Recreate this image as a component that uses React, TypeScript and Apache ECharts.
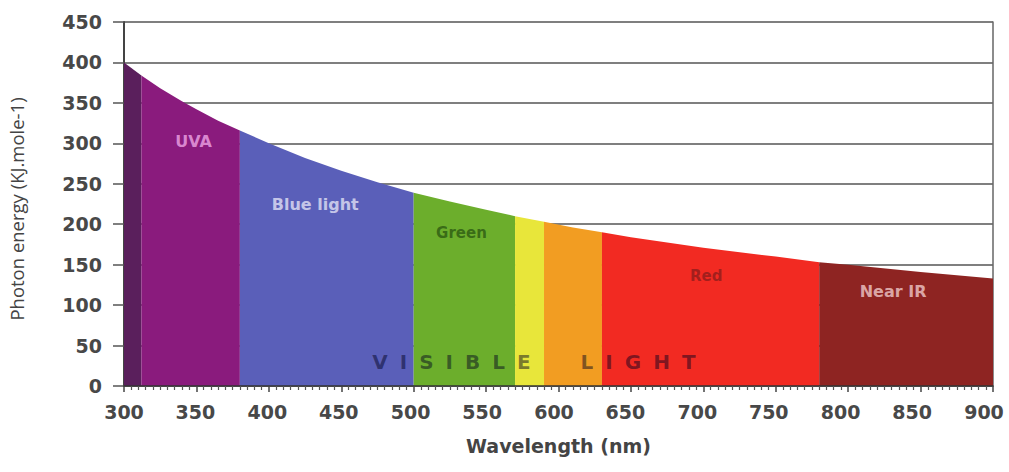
import React, { useEffect, useRef } from "react";
import * as echarts from "echarts";

// Curve: wavelength (nm) -> photon energy (kJ/mol)
const wavelengths = [300, 312, 325, 340, 350, 365, 380, 400, 425, 450, 475, 500, 525, 550, 570, 590, 610, 630, 650, 700, 750, 780, 800, 850, 900];
const energies = [400, 384, 368, 352, 342, 328, 316, 300, 282, 266, 252, 239, 228, 218, 210, 203, 196, 190, 184, 171, 160, 153, 150, 141, 133];

// Colored bands
const bandStarts = [300, 312, 380, 500, 570, 590, 630, 780];
const bandEnds = [312, 380, 500, 570, 590, 630, 780, 900];
const bandColors = ["#5a1f5c", "#8a1b7d", "#5a5fb9", "#6cae2c", "#e8e63a", "#f29d22", "#f22a22", "#8e2422"];

// Text annotations
const S = "\u2002\u200a";
const visibleText = ["V", "I", "S", "I", "B", "L", "E"].join(S) + "\u2002".repeat(5) + ["L", "I", "G", "H", "T"].join(S);
const labelTexts = ["UVA", "Blue light", "Green", "Red", "Near IR", visibleText];
const labelX = [348, 432, 533, 702, 831, 583];
const labelY = [302, 224, 189, 136, 117, 30];
const labelColors = ["#eea6e6", "#e2e2f6", "#2d5a12", "#8e1c1c", "#f0caca", "rgba(0,0,30,0.6)"];
const labelSizes = [16, 16, 15, 15, 16, 20];

const xTicks = [300, 900, 50];
const yTicks = [0, 450, 50];

export default function App() {
  const ref = useRef<HTMLDivElement>(null);
  useEffect(() => {
    document.body.style.margin = "0";
    const chart = echarts.init(ref.current!, null, { renderer: "svg" });
    const bandSeries = bandStarts.map((s, i) => ({
      type: "line",
      data: wavelengths
        .map((w, k) => [w, energies[k]])
        .filter((p) => p[0] >= s && p[0] <= bandEnds[i]),
      symbol: "none",
      lineStyle: { width: 0, color: bandColors[i] },
      areaStyle: { color: bandColors[i], opacity: 1 },
      z: 2,
      silent: true,
    }));
    const labelSeries = {
      type: "scatter",
      symbolSize: 0,
      z: 5,
      data: labelTexts.map((t, i) => ({
        value: [labelX[i], labelY[i]],
        label: {
          show: true,
          position: "inside",
          formatter: t,
          color: labelColors[i],
          fontSize: labelSizes[i],
          fontWeight: "bold",
          fontFamily: "DejaVu Sans",
        },
      })),
    };
    const xRich: Record<string, any> = {};
    for (let v = xTicks[0]; v <= xTicks[1]; v += xTicks[2]) {
      const pad = Math.round(((v - xTicks[0]) / (xTicks[1] - xTicks[0])) * 18);
      xRich["t" + v] = {
        fontSize: 19,
        fontFamily: "DejaVu Sans",
        fontWeight: "bold",
        color: "#484848",
        padding: [0, pad, 0, 0],
      };
    }
    chart.setOption({
      animation: false,
      backgroundColor: "#ffffff",
      grid: { left: 124, right: 16, top: 22, bottom: 86, containLabel: false, outerBoundsMode: "none" },
      xAxis: {
        type: "value",
        min: xTicks[0],
        max: xTicks[1],
        interval: xTicks[2],
        name: "Wavelength (nm)",
        nameLocation: "middle",
        nameGap: 50,
        nameTextStyle: { fontSize: 19, fontFamily: "DejaVu Sans", fontWeight: "bold", color: "#444" },
        axisLine: { show: true, onZero: false, lineStyle: { color: "#333", width: 1.5 } },
        axisTick: { show: true, length: 6, lineStyle: { color: "#444", width: 1.5 } },
        minorTick: { show: true, splitNumber: 10, length: 4, lineStyle: { color: "#555", width: 1.2 } },
        axisLabel: {
          margin: 16,
          formatter: (v: number) => "{t" + v + "|" + v + "}",
          rich: xRich,
        },
        splitLine: { show: false },
        z: 10,
      },
      yAxis: [
        {
          type: "value",
          min: yTicks[0],
          max: yTicks[1],
          interval: yTicks[2],
          name: "Photon energy (KJ.mole-1)",
          nameLocation: "middle",
          nameRotate: 90,
          nameGap: 98,
          nameTextStyle: { fontSize: 18.5, fontFamily: "Open Sans", color: "#444", padding: [0, 10, 0, 0] },
          axisLine: { show: true, lineStyle: { color: "#444", width: 2 } },
          axisTick: { show: true, length: 11, lineStyle: { color: "#555", width: 1.5 } },
          axisLabel: { fontSize: 19, fontFamily: "DejaVu Sans", fontWeight: "bold", color: "#484848", margin: 22 },
          splitLine: { show: true, lineStyle: { color: "#555", width: 1.5 } },
        },
        {
          type: "value",
          min: yTicks[0],
          max: yTicks[1],
          interval: yTicks[2],
          position: "right",
          axisLine: { show: true, lineStyle: { color: "#666", width: 1.5 } },
          axisTick: { show: false },
          axisLabel: { show: false },
          splitLine: { show: false },
        },
      ],
      series: [...bandSeries, labelSeries],
    });
    return () => chart.dispose();
  }, []);
  return <div ref={ref} style={{ width: 1009, height: 472 }} />;
}
